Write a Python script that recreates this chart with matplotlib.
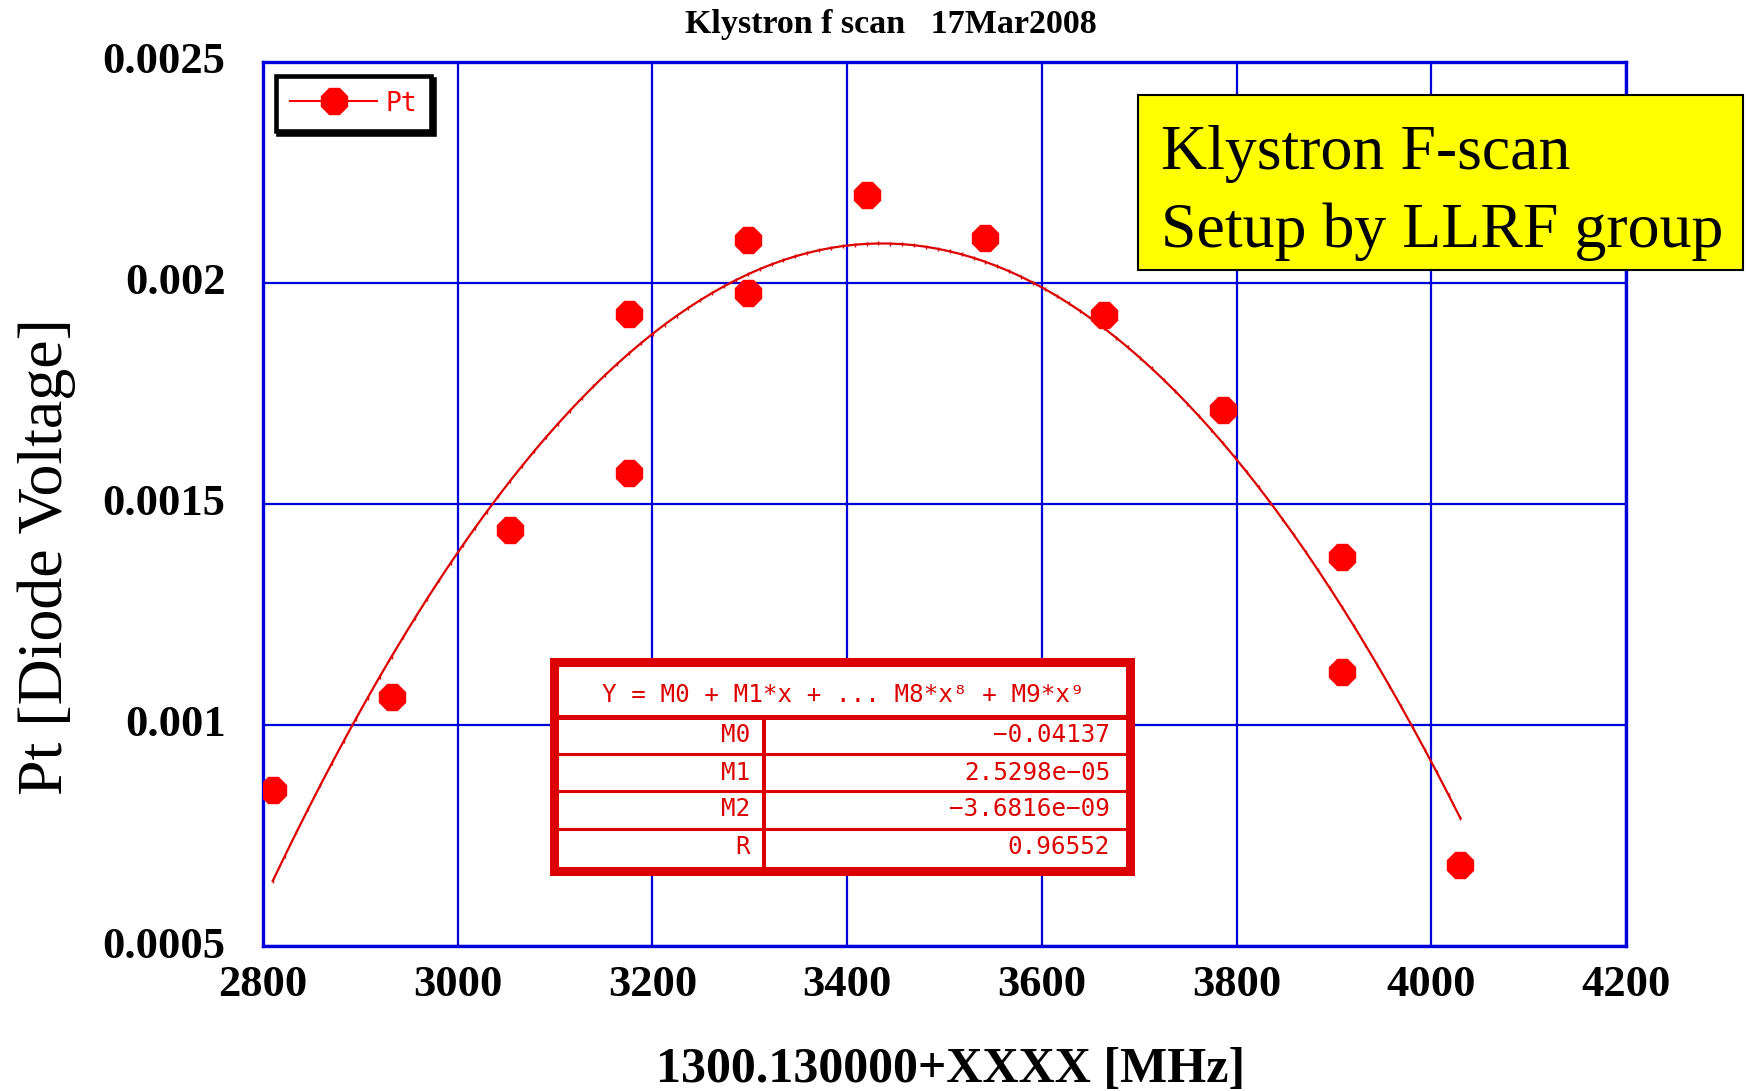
import numpy as np
import matplotlib
matplotlib.use("Agg")
import matplotlib.pyplot as plt
import matplotlib.transforms as mtransforms
from matplotlib.patches import Rectangle
from matplotlib.lines import Line2D

# ---- measured data -------------------------------------------------------
freq_offset = [2810, 2932, 3054, 3176, 3176, 3298, 3298, 3420, 3542, 3664,
               3786, 3908, 3908, 4030]
pt_voltage = [0.000853, 0.001062, 0.00144, 0.001928, 0.00157, 0.002097,
              0.001977, 0.002198, 0.002102, 0.001926, 0.001712, 0.001379,
              0.00112, 0.000684]

# polynomial fit coefficients (Y = M0 + M1*x + M2*x^2) and correlation
M0, M1, M2 = -0.04137, 2.5298e-05, -3.6816e-09
R_value = 0.96552

x_ticks = [2800, 3000, 3200, 3400, 3600, 3800, 4000, 4200]
y_ticks = [0.0005, 0.001, 0.0015, 0.002, 0.0025]
y_tick_labels = ["0.0005", "0.001", "0.0015", "0.002", "0.0025"]

title = "Klystron f scan   17Mar2008"
x_label = "1300.130000+XXXX [MHz]"
y_label = "Pt [Diode Voltage]"
note_lines = ["Klystron F-scan", "Setup by LLRF group"]

# ---- style ---------------------------------------------------------------
SERIF = "Liberation Serif"
MONO = "DejaVu Sans Mono"
BLUE = "#0000dd"
RED = "#ff0000"
DARK_RED = "#dd0000"

W, H = 1746, 1091
fig = plt.figure(figsize=(W / 100, H / 100), dpi=100)


def fx(x):
    return x / W


def fy(y):
    return 1 - y / H


ax = fig.add_axes([fx(263), fy(946), (1626 - 263) / W, (946 - 61.5) / H])
ax.set_xlim(2800, 4200)
ax.set_ylim(0.0005, 0.0025)
ax.set_xticks(x_ticks)
ax.set_yticks(y_ticks)
ax.set_yticklabels(y_tick_labels)
ax.grid(True, color=BLUE, lw=1.6)
ax.set_axisbelow(True)
for sp in ax.spines.values():
    sp.set_color(BLUE)
    sp.set_linewidth(2.4)
ax.tick_params(axis="x", length=0, pad=14)
ax.tick_params(axis="y", length=0, pad=27)
for lab in ax.get_xticklabels():
    lab.set_fontfamily(SERIF)
    lab.set_fontweight("bold")
    lab.set_fontsize(32)
lift = mtransforms.ScaledTranslation(0, 4 / 100, fig.dpi_scale_trans)
for lab in ax.get_yticklabels():
    lab.set_fontfamily(SERIF)
    lab.set_fontweight("bold")
    lab.set_fontsize(32)
    lab.set_transform(lab.get_transform() + lift)

# fitted curve
x_fit = np.linspace(min(freq_offset), max(freq_offset), 101)
y_fit = M0 + M1 * x_fit + M2 * x_fit ** 2
ax.plot(x_fit, y_fit, color=DARK_RED, lw=1.6, marker="|", ms=3.5,
        mew=1.0, zorder=3)

# measured points
ax.plot(freq_offset, pt_voltage, linestyle="none", marker="8", ms=20,
        color=RED, mec=RED, zorder=4)

# legend
handle = Line2D([], [], color=RED, lw=1.5, marker="8", ms=20, mec=RED)
leg = ax.legend([handle], ["Pt"], loc="upper left",
                bbox_to_anchor=(fx(275.5), fy(76)),
                bbox_transform=fig.transFigure, borderaxespad=0,
                prop={"family": MONO, "size": 19}, labelcolor=RED,
                handlelength=3.3, handletextpad=0.3, borderpad=0.55,
                fancybox=False, framealpha=1,
                shadow={"color": "black", "alpha": 1.0})
leg.get_frame().set_edgecolor("black")
leg.get_frame().set_linewidth(3.3)

# titles and axis labels
fig.text(fx(891), fy(24), title, ha="center", va="center",
         family=SERIF, weight="bold", fontsize=24.5)
fig.text(fx(951), fy(1070), x_label, ha="center", va="center",
         family=SERIF, weight="bold", fontsize=36)
fig.text(fx(47), fy(557), y_label, ha="center", va="center", rotation=90,
         family=SERIF, fontsize=46)

# yellow note box
fig.add_artist(Rectangle((fx(1138), fy(269.5)), (1743 - 1138) / W,
                         (269.5 - 95) / H, facecolor="#ffff00",
                         edgecolor="black", lw=1.5,
                         transform=fig.transFigure, zorder=5))
for line, base in zip(note_lines, [169, 247]):
    fig.text(fx(1161), fy(base), line, ha="left", va="baseline",
             family=SERIF, fontsize=46, zorder=6)

# fit coefficient table
fig.add_artist(Rectangle((fx(553.5), fy(870.5)), (1129.5 - 553.5) / W,
                         (870.5 - 662) / H, facecolor="white",
                         edgecolor=DARK_RED, lw=6.5,
                         transform=fig.transFigure, zorder=5))


def hline(y, x0, x1, lw):
    fig.add_artist(Line2D([fx(x0), fx(x1)], [fy(y), fy(y)], color=DARK_RED,
                          lw=lw, transform=fig.transFigure, zorder=6))


hline(717, 558, 1125, 3.6)
for yy in [754, 790.5, 828.5]:
    hline(yy, 558, 1125, 2.2)
fig.add_artist(Line2D([fx(764), fx(764)], [fy(719), fy(866)], color=DARK_RED,
                      lw=2.9, transform=fig.transFigure, zorder=6))

header = "Y = M0 + M1*x + ... M8*x\u2078 + M9*x\u2079"
fig.text(fx(843), fy(695), header, ha="center", va="center",
         family=MONO, fontsize=17.5, color=DARK_RED, zorder=7)

row_names = ["M0", "M1", "M2", "R"]
row_values = [f"{M0:.5f}", f"{M1:.4e}", f"{M2:.4e}", f"{R_value:.5f}"]
for name, val, yc in zip(row_names, row_values, [735, 773, 809.5, 847]):
    fig.text(fx(750), fy(yc), name, ha="right", va="center", family=MONO,
             fontsize=17.5, color=DARK_RED, zorder=7)
    fig.text(fx(1110), fy(yc), val.replace("-", "\u2212"), ha="right",
             va="center", family=MONO, fontsize=17.5, color=DARK_RED,
             zorder=7)

fig.savefig("out.png", dpi=100)
